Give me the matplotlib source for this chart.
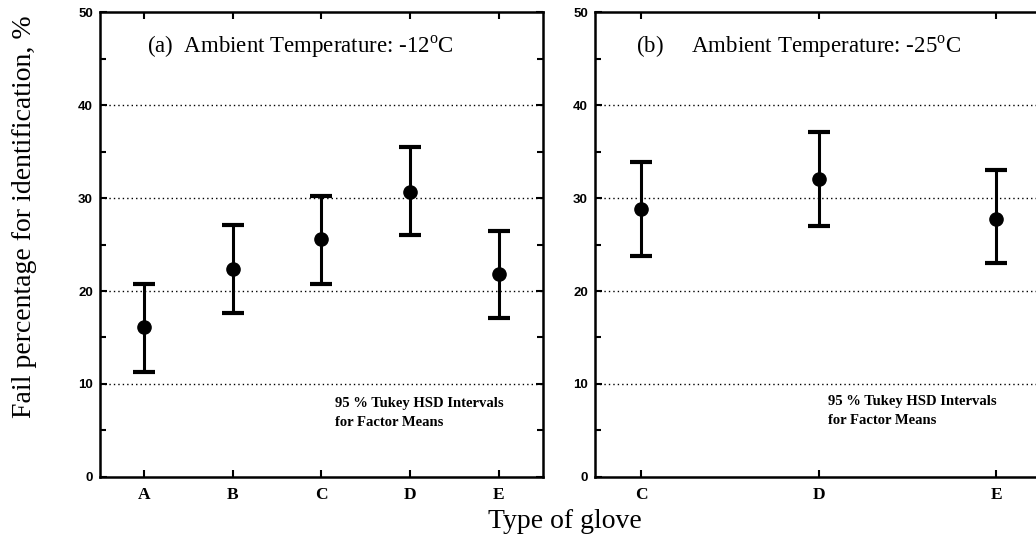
import matplotlib
matplotlib.use("Agg")
import matplotlib.pyplot as plt
from matplotlib.ticker import MultipleLocator

# panel (a): ambient -12 C
gloves_a = ["A", "B", "C", "D", "E"]
mean_a = [16.1, 22.4, 25.6, 30.7, 21.8]
low_a = [11.3, 17.6, 20.8, 26.0, 17.1]
high_a = [20.8, 27.1, 30.2, 35.5, 26.5]

# panel (b): ambient -25 C
gloves_b = ["C", "D", "E"]
mean_b = [28.8, 32.0, 27.7]
low_b = [23.8, 27.0, 23.0]
high_b = [33.9, 37.1, 33.0]

serif = "Liberation Serif"
sans = "Liberation Sans"
plt.rcParams["mathtext.fontset"] = "custom"
plt.rcParams["mathtext.rm"] = serif

fig = plt.figure(figsize=(10.36, 5.47), dpi=100)
ax1 = fig.add_axes([0.0965, 0.128, 0.4276, 0.850])
ax2 = fig.add_axes([0.5743, 0.128, 0.432, 0.850])


def draw_panel(ax, labels, mean, low, high, xpad):
    x = list(range(len(labels)))
    err = [[m - l for m, l in zip(mean, low)], [h - m for m, h in zip(mean, high)]]
    ax.errorbar(x, mean, yerr=err, fmt="o", color="black", ms=9.5,
                elinewidth=2.2, capsize=8, capthick=3, zorder=3)
    ax.set_xlim(-xpad, len(labels) - 1 + xpad)
    ax.set_ylim(0, 50)
    ax.set_xticks(x)
    ax.set_xticklabels(labels, fontfamily=serif, fontweight="bold", fontsize=12.5)
    ax.yaxis.set_major_locator(MultipleLocator(10))
    ax.yaxis.set_minor_locator(MultipleLocator(5))
    for lab in ax.get_yticklabels():
        lab.set_fontfamily(sans)
        lab.set_fontweight("bold")
        lab.set_fontsize(9.5)
    ax.tick_params(axis="both", which="both", direction="in", top=True, right=True,
                   width=1.5, color="black")
    ax.tick_params(axis="both", which="major", length=5, pad=5)
    ax.tick_params(axis="y", which="minor", length=4)
    ax.tick_params(axis="x", which="major", pad=7)
    for y in [10, 20, 30, 40]:
        ax.axhline(y, color="black", lw=1.0, ls=(0, (1, 2.2)), zorder=1)
    for s in ax.spines.values():
        s.set_linewidth(1.8)


draw_panel(ax1, gloves_a, mean_a, low_a, high_a, 0.5)
draw_panel(ax2, gloves_b, mean_b, low_b, high_b, 0.26)

ax1.text(0.03, 46.2, "(a)  Ambient Temperature: -12$^{\\mathrm{o}}$C", fontfamily=serif,
         fontsize=16.5, va="center", ha="left")
ax2.text(-0.03, 46.2, "(b)     Ambient Temperature: -25$^{\\mathrm{o}}$C", fontfamily=serif,
         fontsize=16.5, va="center", ha="left")

ax1.text(2.15, 6.9, "95 % Tukey HSD Intervals\nfor Factor Means", fontfamily=serif,
         fontsize=10.5, fontweight="bold", va="center", ha="left", linespacing=1.6)
ax2.text(1.05, 7.1, "95 % Tukey HSD Intervals\nfor Factor Means", fontfamily=serif,
         fontsize=10.5, fontweight="bold", va="center", ha="left", linespacing=1.6)

fig.text(25 / 1036, 1 - 217 / 547, "Fail percentage for identification, %", fontfamily=serif,
         fontsize=20, rotation=90, va="center", ha="center")
fig.text(565 / 1036, 1 - 521 / 547, "Type of glove", fontfamily=serif,
         fontsize=20, va="center", ha="center")

fig.savefig("out.png", dpi=100)
